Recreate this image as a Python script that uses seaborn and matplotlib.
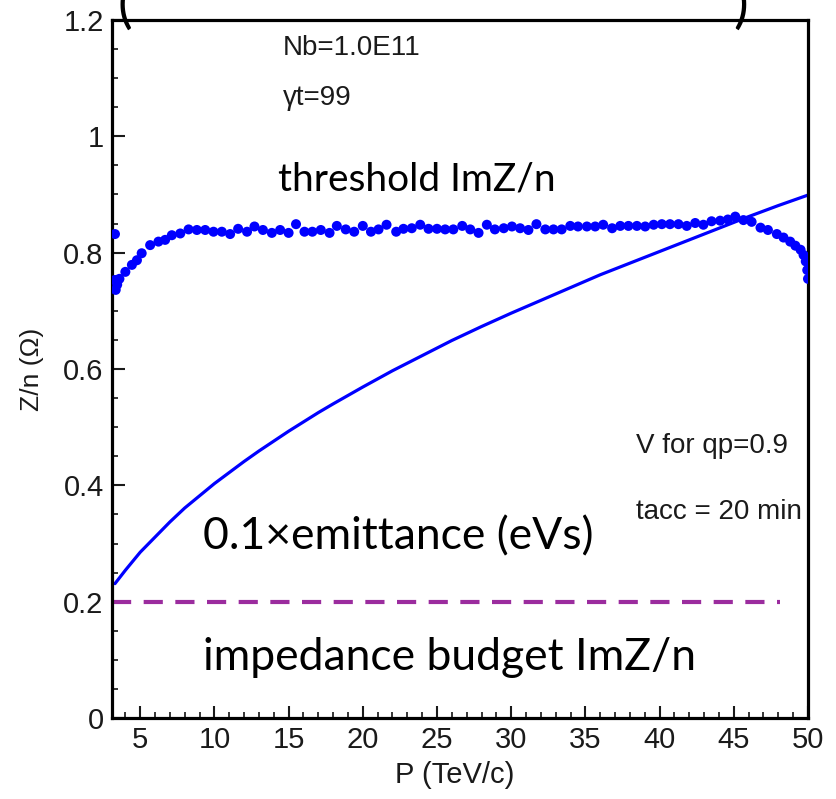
import matplotlib
matplotlib.use("Agg")
import matplotlib.pyplot as plt
import seaborn as sns
import pandas as pd
from matplotlib.ticker import MultipleLocator

# ---- data ----
thr_p = [3.3, 3.3, 3.35, 3.45, 3.6, 4.0, 4.44, 4.78, 5.1, 5.67, 6.23, 6.68, 7.13, 7.7,
         8.26, 8.82, 9.38, 9.94, 10.5, 11.06, 11.6, 12.2, 12.7, 13.27, 13.87, 14.43,
         15.0, 15.5, 16.07, 16.6, 17.17, 17.76, 18.25, 18.85, 19.42, 20.0, 20.55,
         21.06, 21.6, 22.25, 22.74, 23.3, 23.87, 24.43, 25.0, 25.55, 26.1, 26.7,
         27.24, 27.8, 28.36, 28.9, 29.5, 30.05, 30.6, 31.16, 31.7, 32.3, 32.85,
         33.4, 33.98, 34.5, 35.1, 35.66, 36.2, 36.8, 37.35, 37.9, 38.47, 39.03,
         39.6, 40.15, 40.7, 41.27, 41.83, 42.4, 42.95, 43.5, 44.08, 44.6, 45.1,
         45.65, 46.2, 46.8, 47.3, 47.9, 48.35, 48.8, 49.15, 49.5, 49.7, 49.85,
         49.95, 50.0]
thr_z = [0.832, 0.753, 0.736, 0.745, 0.755, 0.767, 0.779, 0.787, 0.799, 0.813, 0.819,
         0.822, 0.830, 0.833, 0.840, 0.839, 0.839, 0.836, 0.836, 0.832, 0.841, 0.836,
         0.845, 0.839, 0.834, 0.839, 0.834, 0.849, 0.836, 0.836, 0.839, 0.834, 0.846,
         0.840, 0.836, 0.846, 0.836, 0.840, 0.848, 0.836, 0.841, 0.842, 0.848, 0.841,
         0.841, 0.840, 0.840, 0.846, 0.840, 0.834, 0.848, 0.840, 0.842, 0.845, 0.842,
         0.839, 0.849, 0.840, 0.840, 0.840, 0.846, 0.845, 0.845, 0.845, 0.848, 0.842,
         0.846, 0.846, 0.846, 0.845, 0.848, 0.849, 0.849, 0.849, 0.846, 0.851, 0.848,
         0.854, 0.855, 0.857, 0.862, 0.856, 0.853, 0.843, 0.839, 0.832, 0.826, 0.819,
         0.812, 0.805, 0.796, 0.785, 0.770, 0.755]

emit_p = [3.3, 4, 5, 6, 7, 8, 9, 10, 11, 12, 13, 14, 15, 16, 17, 18, 20, 22, 24,
          26, 28, 30, 32, 34, 36, 38, 40, 42, 44, 46, 48, 50]
emit_z = [0.231, 0.254, 0.285, 0.311, 0.337, 0.361, 0.382, 0.403, 0.422, 0.441,
          0.459, 0.476, 0.493, 0.509, 0.525, 0.540, 0.569, 0.597, 0.623, 0.649,
          0.673, 0.696, 0.718, 0.740, 0.762, 0.782, 0.802, 0.822, 0.842, 0.862,
          0.881, 0.899]

budget_p = [3.1, 48.1]
budget_z = [0.2, 0.2]

x_ticks = [5, 10, 15, 20, 25, 30, 35, 40, 45, 50]
y_ticks = [0, 0.2, 0.4, 0.6, 0.8, 1.0, 1.2]
y_tick_labels = ["0", "0.2", "0.4", "0.6", "0.8", "1", "1.2"]

thr_df = pd.DataFrame({"P": thr_p, "Z": thr_z})
emit_df = pd.DataFrame({"P": emit_p, "Z": emit_z})
budget_df = pd.DataFrame({"P": budget_p, "Z": budget_z})

# ---- figure ----
sns.set_style("ticks")
plt.rcParams["font.family"] = ["Liberation Sans", "DejaVu Sans"]

fig = plt.figure(figsize=(8.36, 7.99), dpi=100)
ax = fig.add_axes([112 / 836, 1 - 718 / 799, 696 / 836, 698 / 799])

sns.lineplot(data=emit_df, x="P", y="Z", ax=ax, color="#0000ff", linewidth=2.3,
             estimator=None, sort=True)
sns.lineplot(data=budget_df, x="P", y="Z", ax=ax, color="#9b2c9e", linewidth=3.0,
             estimator=None, dashes=False)
ax.lines[-1].set_dashes([4.6, 3.0])
sns.scatterplot(data=thr_df, x="P", y="Z", ax=ax, color="#0000ff", s=52,
                edgecolor="none", zorder=3)

ax.set_xlim(3.1, 50)
ax.set_ylim(0, 1.2)
ax.set_xticks(x_ticks)
ax.set_yticks(y_ticks)
ax.set_yticklabels(y_tick_labels)
ax.xaxis.set_minor_locator(MultipleLocator(1))
ax.yaxis.set_minor_locator(MultipleLocator(0.05))
ax.tick_params(axis="both", which="major", direction="in", length=9, width=1.5,
               labelsize=21, colors="#1a1a1a", pad=6, top=False, right=False)
ax.tick_params(axis="both", which="minor", direction="in", length=4.5, width=1.3,
               top=False, right=False)
for sp in ax.spines.values():
    sp.set_linewidth(2.3)
    sp.set_color("black")

ax.set_xlabel("P (TeV/c)", fontsize=21, color="#1a1a1a")
ax.set_ylabel("Z/n (Ω)", fontsize=19, color="#1a1a1a")
ax.xaxis.set_label_coords(0.493, -0.082)
ax.xaxis.label.set_va("center")
ax.yaxis.set_label_coords(-0.115, 0.5)
ax.yaxis.label.set_va("center")

# small Arial-like annotations
ann = dict(fontsize=20, color="#1a1a1a", transform=fig.transFigure, ha="left", va="center")
fig.text(283 / 836, 1 - 48 / 799, "Nb=1.0E11", **ann)
fig.text(283 / 836, 1 - 98 / 799, "γt=99", **ann)
fig.text(636 / 836, 1 - 446 / 799, "V for qp=0.9", **ann)
fig.text(636 / 836, 1 - 512 / 799, "tacc = 20 min", **ann)

# large slide-style labels
big = dict(color="black", family=["Lato", "DejaVu Sans"],
           transform=fig.transFigure, ha="left", va="center")
fig.text(278 / 836, 1 - 180 / 799, "threshold ImZ/n", fontsize=28, **big)
fig.text(203 / 836, 1 - 537 / 799, "0.1×emittance (eVs)", fontsize=32, **big)
fig.text(203 / 836, 1 - 657 / 799, "impedance budget ImZ/n", fontsize=32, **big)

# parentheses of a cropped title
par = dict(fontsize=40, color="black", family=["Lato", "DejaVu Sans"],
           transform=fig.transFigure, va="baseline")
fig.text(118 / 836, 1 - 22 / 799, "(", ha="left", **par)
fig.text(748 / 836, 1 - 22 / 799, ")", ha="right", **par)

fig.savefig("out.png", dpi=100)
